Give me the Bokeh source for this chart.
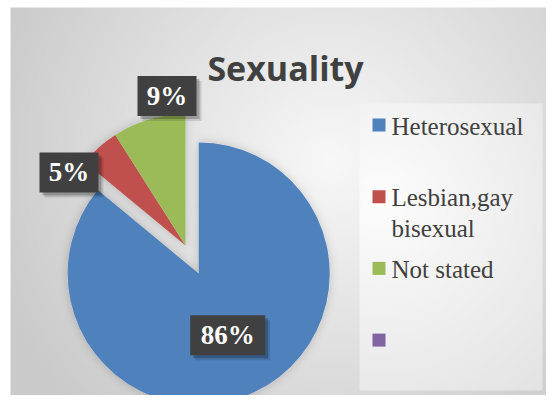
import numpy as np
from bokeh.plotting import figure
from bokeh.models import Range1d
from bokeh.embed import file_html
from bokeh.resources import INLINE
from bokeh.core.properties import value

# ---------------- data ----------------
title_text = "Sexuality"
categories = ["Heterosexual", "Lesbian,gay bisexual", "Not stated", ""]
values = [86, 5, 9, 0]
colors = ["#4F81BD", "#C0504D", "#9BBB59", "#8064A2"]
legend_labels = ["Heterosexual", "Lesbian,gay\nbisexual", "Not stated", ""]

# ---------------- style / layout ----------------
explode = [31, 0, 0, 0]           # px, slice explosion
label_radius = [0.52, 1.05, 1.15]  # fraction of radius
label_shift = [0.0, 16.5, -9.15]   # degrees from slice bisector

W, H = 546, 395


def X(px):  # picture x -> data x
    return px


def Y(py):  # picture y -> data y
    return H - py


CX, CY, R = X(185), Y(245), 131

total = float(sum(values))
cum = np.cumsum([0] + values) / total * 360.0
start_deg = 90.0 - cum[:-1]
end_deg = 90.0 - cum[1:]
mid_deg = (start_deg + end_deg) / 2.0
cxs = [CX + e * np.cos(np.radians(m)) for e, m in zip(explode, mid_deg)]
cys = [CY + e * np.sin(np.radians(m)) for e, m in zip(explode, mid_deg)]

# ---------------- background image (gradient + pie shadow) ----------------
jj, ii = np.meshgrid(np.arange(W), np.arange(H))
dx_ = jj + 0.5
dy_ = H - (ii + 0.5)
px = dx_
py = H - dy_

d = np.hypot(px - 330, py - 160)
t = np.clip(d / 360.0, 0, 1)
base = 248 - (248 - 202) * t

# pie coverage mask
mask = np.zeros((H, W))
for k in range(len(values)):
    if values[k] <= 0:
        continue
    ddx = dx_ - cxs[k]
    ddy = dy_ - cys[k]
    rr = np.hypot(ddx, ddy)
    a = (90.0 - np.degrees(np.arctan2(ddy, ddx))) % 360.0
    inside = (rr <= R) & (a >= cum[k]) & (a < cum[k + 1])
    mask[inside] = 1.0


def box_blur(a, r):
    k = 2 * r + 1
    pad = np.pad(a, ((r, r), (0, 0)), mode="edge")
    c = np.vstack([np.zeros((1, a.shape[1])), np.cumsum(pad, axis=0)])
    a = (c[k:] - c[:-k]) / k
    pad = np.pad(a, ((0, 0), (r, r)), mode="edge")
    c = np.hstack([np.zeros((a.shape[0], 1)), np.cumsum(pad, axis=1)])
    return (c[:, k:] - c[:, :-k]) / k


sh = mask.copy()
for _ in range(3):
    sh = box_blur(sh, 4)
base = base - 40 * sh * (1 - mask)

# legend panel
lp = (px >= 359) & (px <= 542) & (py >= 103) & (py <= 390)
dl = np.hypot(px - 380, py - 200)
tl = np.clip(dl / 260.0, 0, 1)
base = np.where(lp, 253 - (253 - 226) * tl, base)

# white strips outside the chart panel
base = np.where((px < 10.5) | (py < 7), 255, base)

g = np.clip(base, 0, 255).astype(np.uint8)
rgba = np.zeros((H, W, 4), dtype=np.uint8)
rgba[..., 0] = g
rgba[..., 1] = g
rgba[..., 2] = g
rgba[..., 3] = 255
img = np.flipud(rgba).copy().view(np.uint32).reshape(H, W)

# ---------------- figure ----------------
p = figure(width=W, height=H, x_range=Range1d(0, W), y_range=Range1d(0, H),
           output_backend="svg", toolbar_location=None,
           x_axis_type=None, y_axis_type=None, min_border=0)
p.grid.visible = False
p.outline_line_color = None
p.background_fill_color = "white"
p.border_fill_color = "white"

p.image_rgba(image=[img], x=0, y=0, dw=W, dh=H)

# pie
n = 3
p.wedge(x=cxs[:n], y=cys[:n], radius=R,
        start_angle=list(np.radians(start_deg[:n])),
        end_angle=list(np.radians(end_deg[:n])),
        direction="clock",
        fill_color=colors[:n], line_color=None)

# data labels
lab_x, lab_y, lab_t, lab_w = [], [], [], []
for k in range(n):
    ang = np.radians(mid_deg[k] + label_shift[k])
    rl = label_radius[k] * R
    lab_x.append(cxs[k] + rl * np.cos(ang))
    lab_y.append(cys[k] + rl * np.sin(ang))
    s = f"{round(values[k] / total * 100)}%"
    lab_t.append(s)
    lab_w.append(27 + 16 * len(s))

for off, al in [(5, 0.12), (3, 0.22)]:
    p.rect(x=[x + off for x in lab_x], y=[y - off for y in lab_y],
           width=lab_w, height=40, fill_color="black", fill_alpha=al,
           line_color=None)
p.rect(x=lab_x, y=lab_y, width=lab_w, height=40, fill_color="#404040",
       line_color=None)
p.text(x=lab_x, y=lab_y, text=lab_t, text_align="center",
       text_baseline="middle", text_font=value("Liberation Serif"),
       text_font_style="bold", text_font_size="27px", text_color="white")

# title
p.text(x=[X(285)], y=[Y(67)], text=[title_text], text_align="center",
       text_baseline="alphabetic", text_font=value("Open Sans"),
       text_font_style="bold", text_font_size="34px", text_color="#404040")

# legend
leg_top = 118
leg_step = 71.7
sq_x = [X(378.5)] * len(categories)
sq_y = [Y(leg_top + 6.5 + leg_step * k) for k in range(len(categories))]
p.rect(x=sq_x, y=sq_y, width=13, height=13, fill_color=colors, line_color=None)
p.text(x=[X(391)] * len(categories),
       y=[Y(leg_top - 6 + leg_step * k) for k in range(len(categories))],
       text=legend_labels, text_align="left", text_baseline="top",
       text_font=value("Liberation Serif"), text_font_size="25px",
       text_line_height=1.15, text_color="#404040")

open("out.html", "w").write(file_html(p, INLINE))
